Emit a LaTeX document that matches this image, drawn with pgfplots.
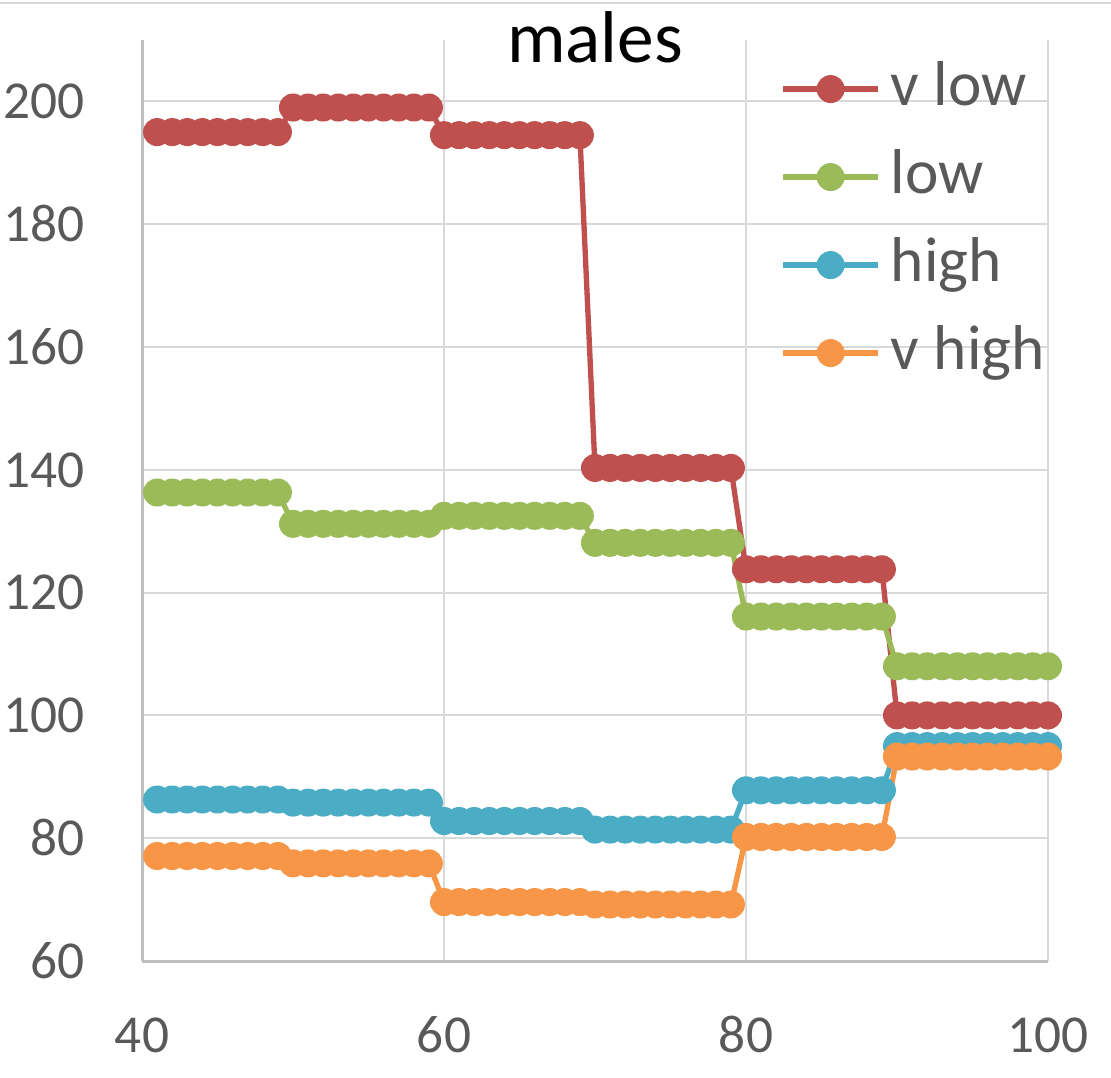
\documentclass[border=0pt]{standalone}
\usepackage{fontspec}
\setmainfont{Carlito}
\usepackage{pgfplots}
\usepackage{pgfplotstable}
\pgfplotsset{compat=1.18}
\definecolor{cred}{HTML}{C0504D}
\definecolor{cgreen}{HTML}{9BBB59}
\definecolor{cblue}{HTML}{4BACC6}
\definecolor{corange}{HTML}{F79646}
\definecolor{gridgray}{HTML}{D9D9D9}
\definecolor{axisgray}{HTML}{BFBFBF}
\definecolor{tickgray}{HTML}{595959}
\pgfplotstableread{
x vlow low high vhigh
41 195 136.3 86.3 77.1
42 195 136.3 86.3 77.1
43 195 136.3 86.3 77.1
44 195 136.3 86.3 77.1
45 195 136.3 86.3 77.1
46 195 136.3 86.3 77.1
47 195 136.3 86.3 77.1
48 195 136.3 86.3 77.1
49 195 136.3 86.3 77.1
50 199 131.2 85.8 75.9
51 199 131.2 85.8 75.9
52 199 131.2 85.8 75.9
53 199 131.2 85.8 75.9
54 199 131.2 85.8 75.9
55 199 131.2 85.8 75.9
56 199 131.2 85.8 75.9
57 199 131.2 85.8 75.9
58 199 131.2 85.8 75.9
59 199 131.2 85.8 75.9
60 194.5 132.5 82.8 69.6
61 194.5 132.5 82.8 69.6
62 194.5 132.5 82.8 69.6
63 194.5 132.5 82.8 69.6
64 194.5 132.5 82.8 69.6
65 194.5 132.5 82.8 69.6
66 194.5 132.5 82.8 69.6
67 194.5 132.5 82.8 69.6
68 194.5 132.5 82.8 69.6
69 194.5 132.5 82.8 69.6
70 140.3 128.1 81.4 69.2
71 140.3 128.1 81.4 69.2
72 140.3 128.1 81.4 69.2
73 140.3 128.1 81.4 69.2
74 140.3 128.1 81.4 69.2
75 140.3 128.1 81.4 69.2
76 140.3 128.1 81.4 69.2
77 140.3 128.1 81.4 69.2
78 140.3 128.1 81.4 69.2
79 140.3 128.1 81.4 69.2
80 123.8 116.1 87.8 80.2
81 123.8 116.1 87.8 80.2
82 123.8 116.1 87.8 80.2
83 123.8 116.1 87.8 80.2
84 123.8 116.1 87.8 80.2
85 123.8 116.1 87.8 80.2
86 123.8 116.1 87.8 80.2
87 123.8 116.1 87.8 80.2
88 123.8 116.1 87.8 80.2
89 123.8 116.1 87.8 80.2
90 100 108 95 93.3
91 100 108 95 93.3
92 100 108 95 93.3
93 100 108 95 93.3
94 100 108 95 93.3
95 100 108 95 93.3
96 100 108 95 93.3
97 100 108 95 93.3
98 100 108 95 93.3
99 100 108 95 93.3
100 100 108 95 93.3
}\datatable
\begin{document}
\begin{tikzpicture}
\useasboundingbox (0,0) rectangle (333.3pt,323.1pt);
\draw[color=gridgray, line width=0.6pt] (0,322.2pt) -- (333.3pt,322.2pt);
\begin{axis}[
  at={(42.6pt,34.8pt)}, anchor=south west,
  scale only axis, width=271.8pt, height=276.3pt,
  xmin=40, xmax=100, ymin=60, ymax=210,
  xtick={40,60,80,100}, ytick={60,80,...,200},
  grid=major, grid style={color=gridgray, line width=0.6pt},
  axis x line=bottom, axis y line=left,
  axis line style={draw=axisgray, line width=0.9pt, -},
  major tick length=0pt,
  tick label style={font=\fontsize{16}{19}\selectfont, text=tickgray},
  /pgf/number format/assume math mode=true,
  xticklabel style={anchor=base, yshift=-27.3pt},
  yticklabel style={inner sep=0pt, anchor=base east, xshift=-17pt, yshift=-5.2pt},
  clip=false,
  legend style={draw=none, fill=none, at={(0.704,0.980)}, anchor=north west,
    font=\fontsize{19}{23}\selectfont, text=tickgray, row sep=8.4pt, inner sep=0pt,
    nodes={inner xsep=3pt, inner ysep=0pt, text height=14pt, text depth=4pt}},
  legend cell align=left,
  legend image code/.code={\draw[mark repeat=2, mark phase=2, #1] plot coordinates {(0pt,0pt) (14.25pt,0pt) (28.5pt,0pt)};},
  every axis plot/.append style={line width=1.6pt, line join=round, mark=*, mark size=4pt},
]
\addplot[color=cred, mark options={solid, fill=cred, draw=cred, line width=0.4pt}] table[x=x, y=vlow] {\datatable};
\addlegendentry{v low}
\addplot[color=cgreen, mark options={solid, fill=cgreen, draw=cgreen, line width=0.4pt}] table[x=x, y=low] {\datatable};
\addlegendentry{low}
\addplot[color=cblue, mark options={solid, fill=cblue, draw=cblue, line width=0.4pt}] table[x=x, y=high] {\datatable};
\addlegendentry{high}
\addplot[color=corange, mark options={solid, fill=corange, draw=corange, line width=0.4pt}] table[x=x, y=vhigh] {\datatable};
\addlegendentry{v high}
\node[anchor=base, font=\fontsize{22}{26}\selectfont, text=black, inner sep=0pt] at (rel axis cs:0.5,0.976) {males};
\end{axis}
\end{tikzpicture}
\end{document}
